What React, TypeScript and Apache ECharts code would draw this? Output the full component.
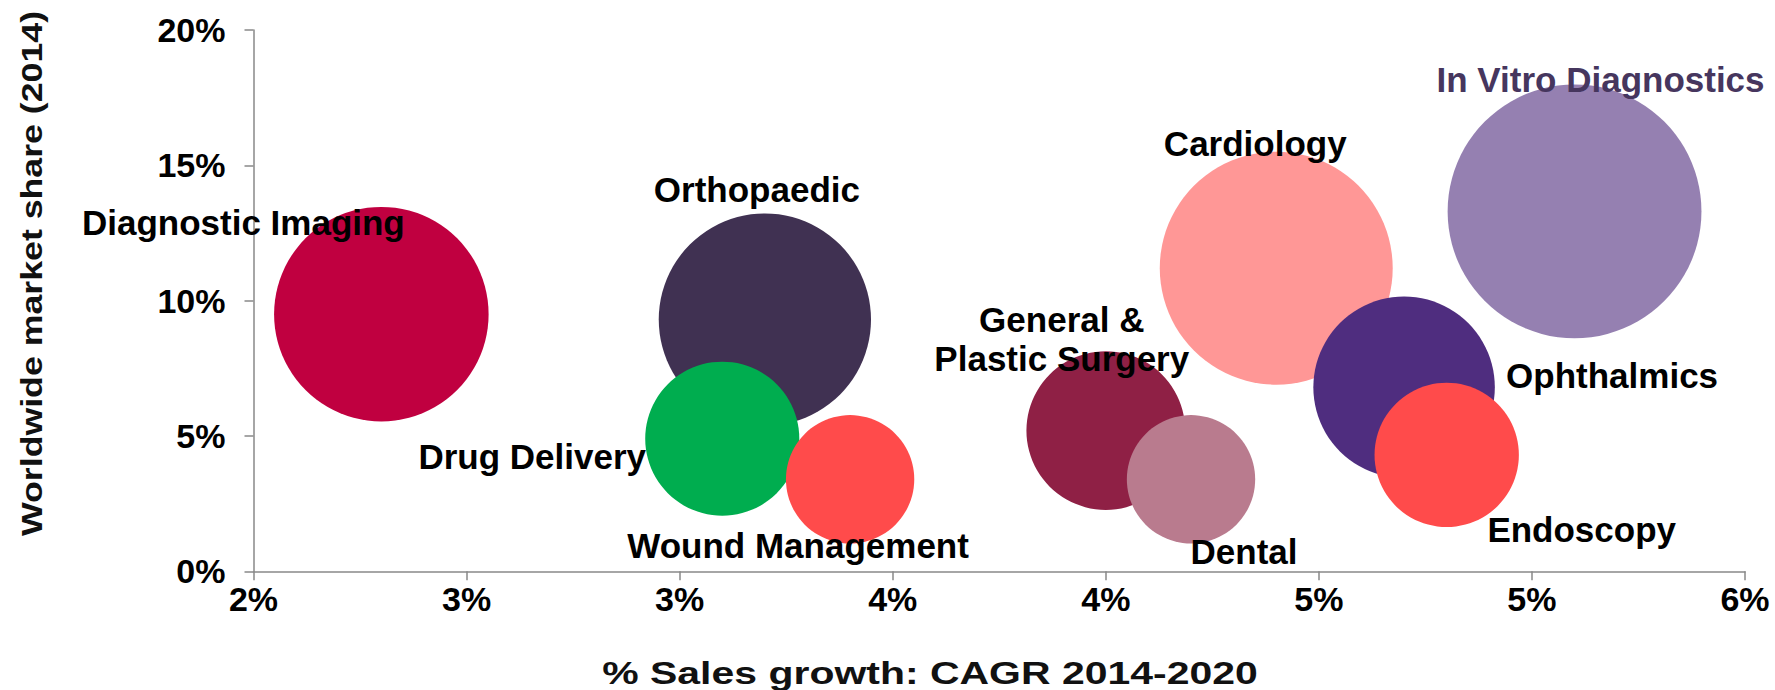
import React, { useEffect, useRef } from "react";
import * as echarts from "echarts";

const categories = [
  "Diagnostic Imaging",
  "Orthopaedic",
  "Drug Delivery",
  "Wound Management",
  "General &\nPlastic Surgery",
  "Dental",
  "Cardiology",
  "Ophthalmics",
  "Endoscopy",
  "In Vitro Diagnostics",
];
// % sales growth CAGR 2014-2020
const salesGrowth = [2.3, 3.2, 3.1, 3.4, 4.0, 4.2, 4.4, 4.7, 4.8, 5.1];
// worldwide market share 2014 (%), also the bubble size
const marketShare = [9.5, 9.3, 4.9, 3.4, 5.2, 3.4, 11.2, 6.8, 4.3, 13.3];

const colors = [
  "#C00040",
  "#403152",
  "#00AD4F",
  "#FF4B4B",
  "#8F2045",
  "#B97B8E",
  "#FF9796",
  "#4F2D7F",
  "#FF4B4B",
  "#9580B1",
];
const labelColors = ["#000", "#000", "#000", "#000", "#000", "#000", "#000", "#000", "#000", "#46365E"];
// label offset from bubble centre (px)
const labelOffsets = [
  [-138, -92],
  [-8, -130],
  [-190, 18],
  [-52, 66],
  [-44, -92],
  [53, 72],
  [-21, -125],
  [208, -12],
  [135, 75],
  [26, -132],
];

const xTicks = { min: 2, max: 5.5, interval: 0.5 };
const yTicks = { min: 0, max: 20, interval: 5 };

const FONT = '"Liberation Sans", Arial, sans-serif';
const SIZE_K = 69.6;

export default function App() {
  const ref = useRef<HTMLDivElement>(null);
  useEffect(() => {
    if (!ref.current) return;
    const chart = echarts.init(ref.current, null, { renderer: "svg" });
    const data = categories.map((name, i) => ({
      name,
      value: [salesGrowth[i], marketShare[i]],
      itemStyle: { color: colors[i], opacity: 1 },
      label: { color: labelColors[i] },
    }));
    chart.setOption({
      animation: false,
      backgroundColor: "#fff",
      grid: { left: 253.5, right: 30, top: 30, bottom: 118.7, containLabel: false, outerBoundsMode: "none" },
      xAxis: {
        type: "value",
        min: xTicks.min,
        max: xTicks.max,
        interval: xTicks.interval,
        splitLine: { show: false },
        axisLine: { show: true, onZero: false, lineStyle: { color: "#898989", width: 1.5 } },
        axisTick: { show: true, length: 9, lineStyle: { color: "#898989", width: 1.5 } },
        axisLabel: {
          margin: 11,
          color: "#000",
          fontFamily: FONT,
          fontWeight: "bold",
          fontSize: 34,
          formatter: (v: number) => Math.round(v) + "%",
        },
      },
      yAxis: {
        type: "value",
        min: yTicks.min,
        max: yTicks.max,
        interval: yTicks.interval,
        splitLine: { show: false },
        axisLine: { show: true, onZero: false, lineStyle: { color: "#898989", width: 1.5 } },
        axisTick: { show: true, length: 9, lineStyle: { color: "#898989", width: 1.5 } },
        axisLabel: {
          margin: 28,
          color: "#000",
          fontFamily: FONT,
          fontWeight: "bold",
          fontSize: 34,
          formatter: "{value}%",
        },
      },
      graphic: [
        {
          type: "text",
          x: 930,
          y: 673,
          scaleX: 1.28,
          style: {
            text: "% Sales growth: CAGR 2014-2020",
            fontFamily: FONT,
            fontWeight: "bold",
            fontSize: 32,
            fill: "#111",
            align: "center",
            verticalAlign: "middle",
          },
        },
        {
          type: "text",
          x: 32,
          y: 273.5,
          rotation: Math.PI / 2,
          scaleX: 1.19,
          style: {
            text: "Worldwide market share (2014)",
            fontFamily: FONT,
            fontWeight: "bold",
            fontSize: 30,
            fill: "#111",
            align: "center",
            verticalAlign: "middle",
          },
        },
      ],
      series: [
        {
          type: "scatter",
          symbol: "circle",
          symbolSize: (val: number[]) => SIZE_K * Math.sqrt(val[1]),
          data,
          emphasis: { disabled: true },
          label: {
            show: true,
            position: "inside",
            formatter: "{b}",
            fontFamily: FONT,
            fontWeight: "bold",
            fontSize: 35,
            lineHeight: 39,
            align: "center",
            verticalAlign: "middle",
          },
          labelLayout: (params: any) => ({
            dx: labelOffsets[params.dataIndex][0],
            dy: labelOffsets[params.dataIndex][1],
            hideOverlap: false,
          }),
        },
      ],
    });
    return () => chart.dispose();
  }, []);
  return (
    <div
      ref={ref}
      style={{ position: "absolute", left: 0, top: 0, width: 1775, height: 690 }}
    />
  );
}
